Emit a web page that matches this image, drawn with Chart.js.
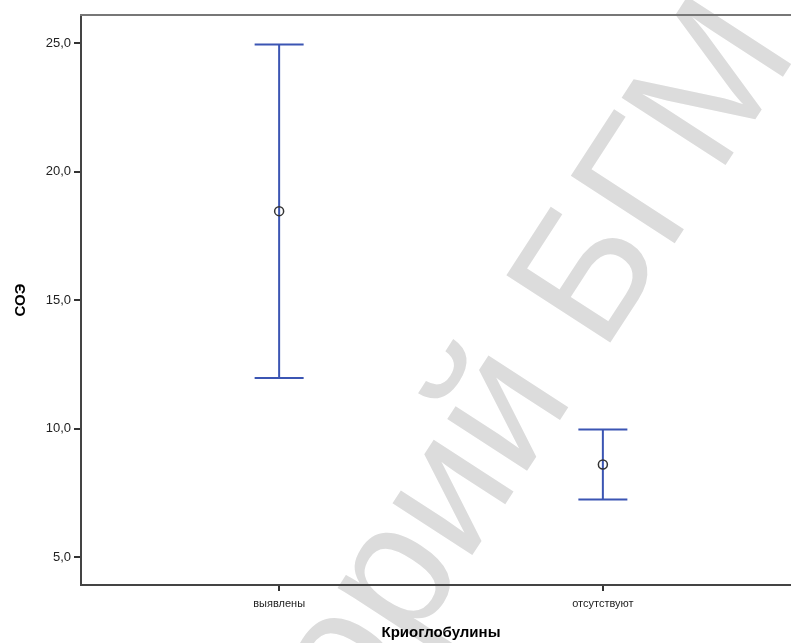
<!DOCTYPE html>
<html>
<head>
<meta charset="utf-8">
<script src="https://cdn.jsdelivr.net/npm/chart.js@4"></script>
<style>
  html, body { margin: 0; padding: 0; background: #fff; overflow: hidden; }
  #wrap { width: 791px; height: 643px; overflow: hidden; }
</style>
</head>
<body>
<div id="wrap"><canvas id="chart" width="812" height="643"></canvas></div>
<script>
// Values
const categories = ['выявлены', 'отсутствуют'];
const means = [18.47, 8.61];
const lower = [11.98, 7.25];
const upper = [24.95, 9.97];
const yTicks = [5, 10, 15, 20, 25];

const barBlue = '#3b55b3';

// Faint watermark behind the plot
const watermark = {
    id: 'watermark',
    beforeDraw(chart) {
        const ctx = chart.ctx;
        ctx.save();
        ctx.font = '180px "Liberation Sans", Arial, sans-serif';
        ctx.fillStyle = '#dcdcdc';
        const before = ctx.measureText('Репозиторий ').width;
        const bW = ctx.measureText('Б').width;
        ctx.translate(580, 270);
        ctx.rotate(-57 * Math.PI / 180);
        ctx.textBaseline = 'alphabetic';
        ctx.fillText('Репозиторий БГМУ', -before - bW / 2, 65);
        ctx.restore();
    }
};

// Top frame line
const frame = {
    id: 'frame',
    afterDraw(chart) {
        const { ctx, chartArea } = chart;
        ctx.save();
        ctx.strokeStyle = '#777';
        ctx.lineWidth = 2;
        ctx.beginPath();
        ctx.moveTo(chartArea.left - 1, chartArea.top);
        ctx.lineTo(chartArea.right, chartArea.top);
        ctx.stroke();
        ctx.restore();
    }
};

const stems = categories.map((c, i) => ({
    type: 'line',
    data: [{ x: i + 1, y: lower[i] }, { x: i + 1, y: upper[i] }],
    borderColor: barBlue,
    borderWidth: 2,
    pointRadius: 0,
    showLine: true,
}));

const caps = {
    data: categories.flatMap((c, i) => [{ x: i + 1, y: lower[i] }, { x: i + 1, y: upper[i] }]),
    pointStyle: 'line',
    pointRadius: 24.5,
    borderColor: barBlue,
    borderWidth: 2,
};

const meanPoints = {
    data: means.map((m, i) => ({ x: i + 1, y: m })),
    pointStyle: 'circle',
    pointRadius: 4.5,
    borderColor: '#333',
    backgroundColor: 'rgba(0,0,0,0)',
    borderWidth: 1.5,
};

const ctx = document.getElementById('chart').getContext('2d');
new Chart(ctx, {
    type: 'scatter',
    data: { datasets: [meanPoints, caps, ...stems] },
    plugins: [watermark, frame],
    options: {
        responsive: false,
        animation: false,
        devicePixelRatio: 1,
        layout: { autoPadding: false, padding: { top: 15, right: 11, left: 0, bottom: 0 } },
        plugins: { legend: { display: false }, tooltip: { enabled: false } },
        scales: {
            x: {
                type: 'linear',
                min: 0.388,
                max: 2.612,
                afterBuildTicks: (scale) => { scale.ticks = categories.map((c, i) => ({ value: i + 1 })); },
                afterFit: (scale) => { scale.height = 58; },
                ticks: {
                    callback: (v) => categories[Math.round(v) - 1],
                    color: '#222',
                    font: { family: 'Arial, "Liberation Sans", sans-serif', size: 11 },
                    padding: 6,
                    maxRotation: 0,
                },
                grid: { drawOnChartArea: false, drawTicks: true, tickLength: 6, tickColor: '#333', lineWidth: 2 },
                border: { color: '#444', width: 2 },
                title: {
                    display: true,
                    text: 'Криоглобулины',
                    color: '#000',
                    font: { family: 'Arial, "Liberation Sans", sans-serif', size: 15, weight: 'bold' },
                    padding: { top: 0, bottom: 1 },
                },
            },
            y: {
                min: 3.925,
                max: 26.1,
                afterBuildTicks: (scale) => { scale.ticks = yTicks.map(v => ({ value: v })); },
                afterFit: (scale) => { scale.width = 81; },
                ticks: {
                    callback: (v) => v.toFixed(1).replace('.', ','),
                    color: '#222',
                    font: { family: 'Arial, "Liberation Sans", sans-serif', size: 13 },
                    padding: 3,
                },
                grid: { drawOnChartArea: false, drawTicks: true, tickLength: 7, tickColor: '#333', lineWidth: 2 },
                border: { color: '#444', width: 2 },
                title: {
                    display: true,
                    text: 'СОЭ',
                    color: '#000',
                    font: { family: 'Arial, "Liberation Sans", sans-serif', size: 15, weight: 'bold' },
                    padding: { top: 12, bottom: 0 },
                },
            },
        },
    },
});
</script>
</body>
</html>
